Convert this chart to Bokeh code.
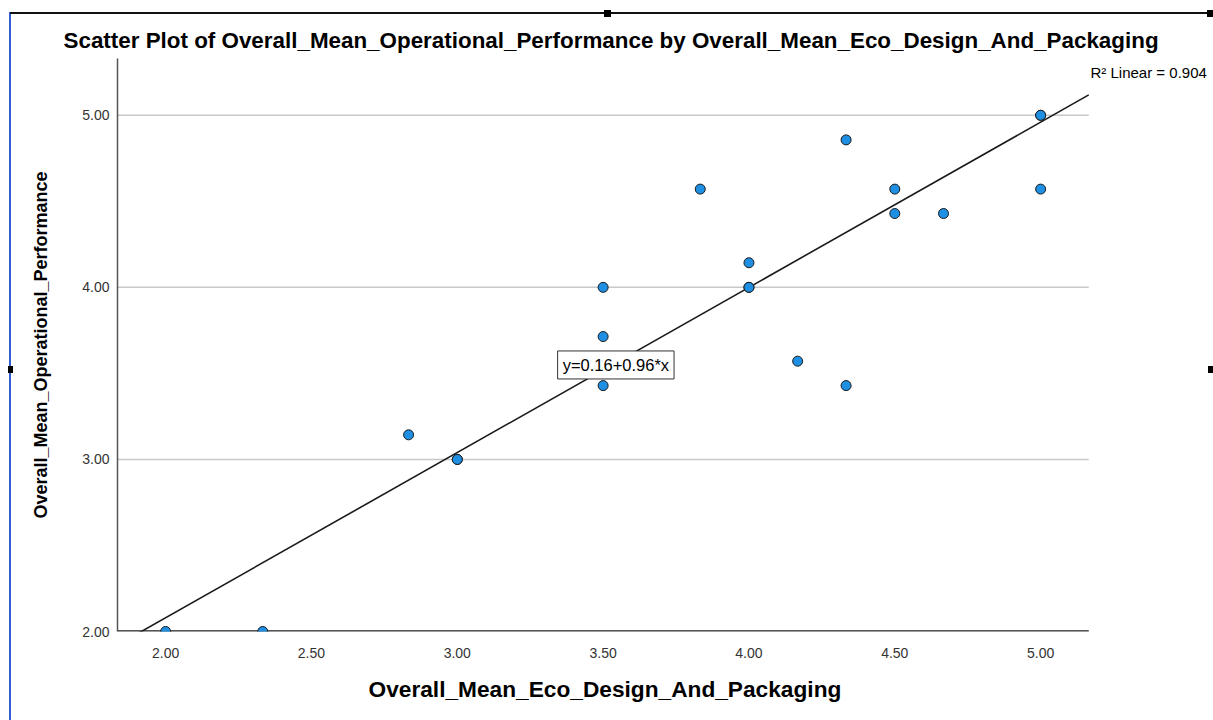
from bokeh.plotting import figure
from bokeh.models import Range1d, Label, FixedTicker, NumeralTickFormatter, Title
from bokeh.embed import file_html
from bokeh.resources import INLINE

# ---- data ----
eco_design = [2.00, 2.333, 2.833, 3.00, 3.00, 3.50, 3.50, 3.50, 3.833, 4.00, 4.00, 4.00,
              4.167, 4.333, 4.333, 4.50, 4.50, 4.667, 5.00, 5.00, 5.00]
operational = [2.00, 2.00, 3.143, 3.00, 3.00, 4.00, 3.714, 3.429, 4.571, 4.143, 4.00, 4.00,
               3.571, 4.857, 3.429, 4.571, 4.429, 4.429, 5.00, 5.00, 4.571]
fit_intercept = 0.16
fit_slope = 0.96
r_squared = 0.904
x_ticks = [2.0, 2.5, 3.0, 3.5, 4.0, 4.5, 5.0]
y_ticks = [2.0, 3.0, 4.0, 5.0]

title_text = "Scatter Plot of Overall_Mean_Operational_Performance by Overall_Mean_Eco_Design_And_Packaging"
x_label = "Overall_Mean_Eco_Design_And_Packaging"
y_label = "Overall_Mean_Operational_Performance"

FONT = "Liberation Sans"

# axis extent of the SPSS plot area; the frame extends further right so the
# R-squared note (which sits right of the plot area) is not clipped
x_start, x_axis_end, x_frame_end = 1.835, 5.165, 5.5927
y_start, y_end = 2.0, 5.33

p = figure(width=1213, height=720, output_backend="svg", toolbar_location=None,
           x_range=Range1d(x_start, x_frame_end), y_range=Range1d(y_start, y_end),
           min_border_left=117, min_border_right=0, min_border_top=58,
           min_border_bottom=89, background_fill_alpha=0, border_fill_alpha=0)
p.outline_line_color = None

# chart-editor selection frame seen around the reference chart
p.styles = {
    "background": (
        "linear-gradient(#000,#000) 604px 10px / 7px 7px no-repeat, "
        "linear-gradient(#000,#000) 1207px 10px / 6px 7px no-repeat, "
        "linear-gradient(#000,#000) 8px 366px / 5px 7px no-repeat, "
        "linear-gradient(#000,#000) 1208px 366px / 5px 7px no-repeat, "
        "linear-gradient(#111,#111) 10px 12px / 1203px 2px no-repeat, "
        "linear-gradient(#2f5fd0,#2f5fd0) 9px 12px / 2px 708px no-repeat, "
        "#ffffff"
    )
}

p.title.text = title_text
p.title.text_font = FONT
p.title.text_font_size = "22.4px"
p.title.text_font_style = "bold"
p.title.text_color = "#000000"
p.title.align = "left"
p.title.offset = -54
p.title.standoff = 11

# axes
for ax in (p.xaxis[0], p.yaxis[0]):
    ax.major_tick_in = 0
    ax.major_tick_out = 0
    ax.minor_tick_in = 0
    ax.minor_tick_out = 0
    ax.axis_line_color = "#555555"
    ax.axis_line_width = 1.5
    ax.major_label_text_font = FONT
    ax.major_label_text_font_size = "14px"
    ax.major_label_text_color = "#333333"
    ax.axis_label_text_font = FONT
    ax.axis_label_text_font_style = "bold"
    ax.axis_label_text_color = "#000000"
    ax.formatter = NumeralTickFormatter(format="0.00")

p.xaxis[0].ticker = FixedTicker(ticks=x_ticks)
p.yaxis[0].ticker = FixedTicker(ticks=y_ticks)
p.xaxis[0].axis_line_color = None
p.xaxis[0].major_label_standoff = 16
p.yaxis[0].axis_label = y_label
p.yaxis[0].axis_label_text_font_size = "18px"
p.yaxis[0].major_label_standoff = 8
p.yaxis[0].axis_label_standoff = 28

# x axis title (placed as a title below the axis so it can be positioned)
xt = Title(text=x_label, align="left", offset=251, standoff=27,
           text_font=FONT, text_font_size="22.7px", text_font_style="bold",
           text_color="#000000")
p.add_layout(xt, "below")

# horizontal gridlines, limited to the plot area
p.xgrid.visible = False
p.ygrid.visible = False
p.segment(x0=[x_start] * len(y_ticks), y0=y_ticks,
          x1=[x_axis_end] * len(y_ticks), y1=y_ticks,
          line_color="#c8c8c8", line_width=1.5)
# x axis line (half of it is clipped at the frame edge)
p.segment(x0=[x_start], y0=[y_start], x1=[x_axis_end], y1=[y_start],
          line_color="#555555", line_width=3)

# regression line
fit_x = [x_start, x_axis_end]
fit_y = [fit_intercept + fit_slope * v for v in fit_x]
p.line(fit_x, fit_y, line_color="#1a1a1a", line_width=1.6)

# points
p.scatter(eco_design, operational, size=10, fill_color="#1e8fe3",
          line_color="#1a1a1a", line_width=1)

# equation label
eq = Label(x=3.344, y=3.549, text=f"y={fit_intercept:.2f}+{fit_slope:.2f}*x",
           text_font=FONT, text_font_size="16.5px", text_color="#000000",
           text_align="left", text_baseline="middle",
           background_fill_color="white", border_line_color="#333333",
           border_line_width=1, padding=5)
p.add_layout(eq)

# R squared label
r2 = Label(x=5.171, y=5.25, text=f"R\u00b2 Linear = {r_squared:.3f}",
           text_font=FONT, text_font_size="15px", text_color="#000000",
           text_align="left", text_baseline="middle")
p.add_layout(r2)

open("out.html", "w").write(file_html(p, INLINE))
